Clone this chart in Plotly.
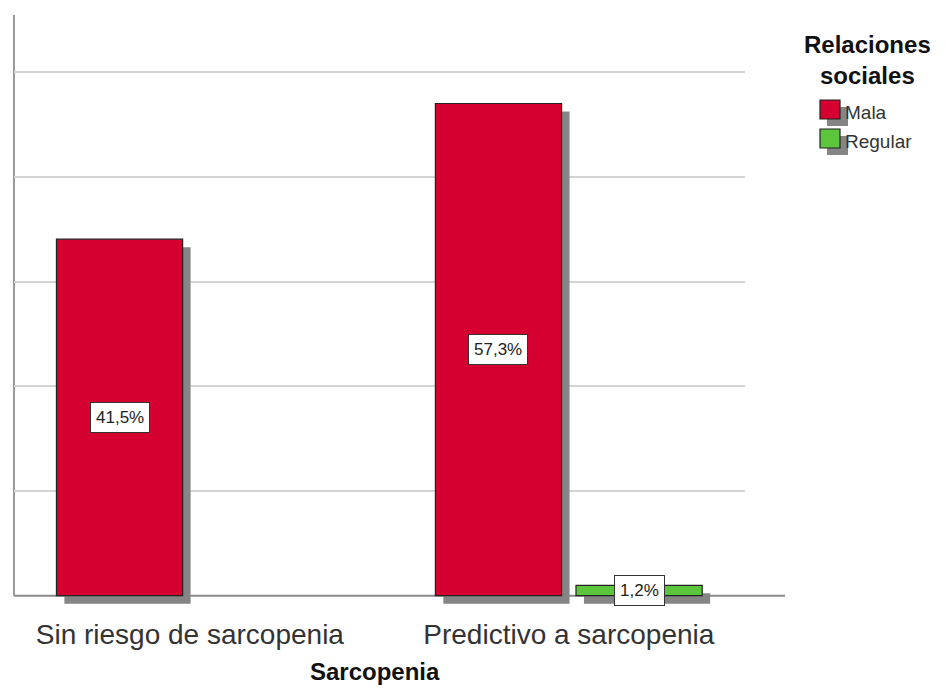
import plotly.graph_objects as go

# ---- data ----
categories = ["Sin riesgo de sarcopenia", "Predictivo a sarcopenia"]
series_names = ["Mala", "Regular"]
mala = [41.5, 57.3]
regular = [0.0, 1.2]
series_values = [mala, regular]
colors = ["#D5002F", "#5BC63B"]
legend_title = "Relaciones<br>sociales"
x_title = "Sarcopenia"

# ---- geometry (axis units) ----
bar_w = 0.333
offsets = [-0.352, 0.019]
shadow_dx = 0.021
shadow_dy = 0.93
xs = list(range(len(categories)))

FONT = "Liberation Sans"

fig = go.Figure()

# shadows
for vals, off in zip(series_values, offsets):
    fig.add_trace(go.Bar(
        x=xs, y=[v if v > 0 else None for v in vals], base=-shadow_dy,
        offset=off + shadow_dx, width=bar_w,
        marker=dict(color="#858585", line=dict(width=0)),
        showlegend=False, hoverinfo="skip"))

# bars
for name, vals, off, col in zip(series_names, series_values, offsets, colors):
    fig.add_trace(go.Bar(
        x=xs, y=[v if v > 0 else None for v in vals], name=name,
        offset=off, width=bar_w, showlegend=False,
        marker=dict(color=col, line=dict(color="#222222", width=1.2))))

# value labels
annotations = []
for vals, off in zip(series_values, offsets):
    for xi, v in zip(xs, vals):
        if v > 0:
            annotations.append(dict(
                x=xi + off + bar_w / 2, y=v / 2, xref="x", yref="y",
                text=f"{v:.1f}%".replace(".", ","), showarrow=False,
                bgcolor="white", bordercolor="#333333", borderwidth=1, borderpad=5,
                font=dict(family=FONT, size=17, color="#222222")))

# paper coords helpers (plot area is 731 x 591 px)
PW, PH = 731.0, 591.0
def px(xp):
    return (xp - 14) / PW
def py(yp):
    return (606 - yp) / PH

# x-axis title
annotations.append(dict(
    x=px(375), y=py(671), xref="paper", yref="paper", xanchor="center", yanchor="middle",
    text="<b>" + x_title + "</b>", showarrow=False,
    font=dict(family=FONT, size=24, color="#111111")))

# manual legend
annotations.append(dict(
    x=px(867), y=py(29), xref="paper", yref="paper", xanchor="center", yanchor="top",
    text="<b>" + legend_title + "</b>", showarrow=False, align="center",
    font=dict(family=FONT, size=24, color="#111111")))

shapes = []
for i, (name, col) in enumerate(zip(series_names, colors)):
    top = 100 + i * 29
    shapes.append(dict(type="rect", xref="paper", yref="paper",
                       x0=px(827), x1=px(848), y0=py(top + 26), y1=py(top + 7),
                       fillcolor="#858585", line=dict(width=0)))
    shapes.append(dict(type="rect", xref="paper", yref="paper",
                       x0=px(820), x1=px(840), y0=py(top + 19), y1=py(top),
                       fillcolor=col, line=dict(color="#222222", width=1.2)))
    annotations.append(dict(
        x=px(843), y=py(top + 12), xref="paper", yref="paper",
        xanchor="left", yanchor="middle", text=name, showarrow=False,
        font=dict(family=FONT, size=19, color="#333333")))

ymax = 67.6
grid_step = 12.19
grid_vals = [grid_step * k for k in range(1, 6)]

# axis lines
shapes += [
    dict(type="line", xref="paper", yref="y", x0=0, x1=(785 - 14) / PW, y0=0, y1=0,
         line=dict(color="#8A8A8A", width=2), layer="below"),
    dict(type="line", xref="paper", yref="y", x0=0, x1=0, y0=0, y1=ymax,
         line=dict(color="#9A9A9A", width=2), layer="below"),
]

fig.update_layout(
    width=929, height=677,
    margin=dict(l=6, r=192, t=7, b=79, autoexpand=False),
    plot_bgcolor="rgba(0,0,0,0)", paper_bgcolor="white",
    barmode="overlay",
    showlegend=False,
    annotations=annotations,
    shapes=shapes,
    xaxis=dict(
        range=[-0.464, 1.465], tickvals=xs, ticktext=categories,
        showgrid=False, zeroline=False, showline=False, ticks="",
        ticklabelstandoff=9, automargin=False,
        tickfont=dict(family=FONT, size=28, color="#333333")),
    yaxis=dict(
        range=[-1.2, ymax], tickvals=grid_vals, automargin=False,
        showticklabels=False, ticks="", showgrid=True,
        gridcolor="#D3D3D3", gridwidth=2, zeroline=False, showline=False),
)

fig.write_html("out.html")
